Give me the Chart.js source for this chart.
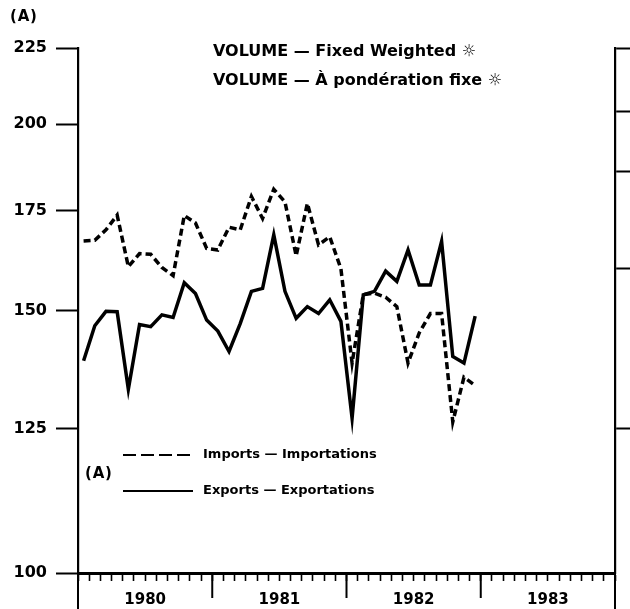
<!DOCTYPE html>
<html><head><meta charset="utf-8">
<script src="https://cdn.jsdelivr.net/npm/chart.js@4/dist/chart.umd.min.js"></script>
<style>
html,body{margin:0;padding:0;background:#fff;}
#wrap{position:relative;width:630px;height:609px;overflow:hidden;}
canvas{position:absolute;left:0;top:0;}
.t{position:absolute;font-family:"DejaVu Sans",sans-serif;font-weight:bold;color:#000;white-space:nowrap;line-height:1;}
svg{position:absolute;left:0;top:0;}
</style></head><body>
<div id="wrap">
<canvas id="c" width="630" height="609"></canvas>
<div class="t" style="left:10px;top:9px;font-size:15px;letter-spacing:0.8px">(A)</div>
<div class="t" style="left:213px;top:43px;font-size:16px">VOLUME — Fixed Weighted ☼</div>
<div class="t" style="left:213px;top:72px;font-size:16px">VOLUME — À pondération fixe ☼</div>
<svg width="630" height="609">
<line x1="123" y1="455" x2="193" y2="455" stroke="#000" stroke-width="2.2" stroke-dasharray="13,5"/>
<line x1="123" y1="491" x2="193" y2="491" stroke="#000" stroke-width="2.2"/>
</svg>
<div class="t" style="left:203px;top:447px;font-size:13px">Imports — Importations</div>
<div class="t" style="left:85px;top:466px;font-size:15px;letter-spacing:0.8px">(A)</div>
<div class="t" style="left:203px;top:483px;font-size:13px">Exports — Exportations</div>
</div>
<script>
// Axis content
const monthsOnAxis = 48;               // Jan 1980 .. Dec 1983
const yearLabels = ['1980', '1981', '1982', '1983'];
const yearBoundaries = [0, 12, 24, 36, 48];
const yTicks = [100, 125, 150, 175, 200, 225];
const rightTicks = [125, 160, 186, 204, 225];

// Monthly values, Jan 1980 .. Dec 1982 (volume index, fixed weighted)
const imports = [167, 167.2, 169.9, 173.8, 160.5, 163.8, 163.6, 160.3, 158.3, 173.7, 171.7, 165.1,
                 164.7, 170.6, 169.9, 178.9, 172.9, 180.9, 177.4, 163.2, 177, 166, 168.1, 160,
                 138.3, 153.7, 154.1, 153.1, 150.9, 138.3, 144.9, 149.3, 149.3, 126.3, 135.3, 133.6];
const exports = [138.8, 146.5, 149.8, 149.7, 132.8, 146.8, 146.3, 149, 148.4, 156.6, 154, 147.8,
                 145.3, 140.8, 147, 154.5, 155.2, 168.6, 154.5, 148.2, 150.9, 149.3, 152.5, 147.5,
                 127, 153.7, 154.5, 159.4, 156.9, 164.7, 156, 156, 166.9, 139.7, 138.3, 148.7];

const toPoints = arr => arr.map((v, i) => ({x: i + 0.5, y: v}));

const majorTicks = {
  id: 'majorTicks',
  afterDraw(chart) {
    const xs = chart.scales.x, ctx = chart.ctx;
    ctx.save();
    ctx.strokeStyle = '#000';
    ctx.lineWidth = 2;
    yearBoundaries.forEach(k => {
      const px = xs.getPixelForValue(k);
      const len = (k === 0 || k === monthsOnAxis) ? 36 : 25;
      ctx.beginPath();
      ctx.moveTo(px, xs.top);
      ctx.lineTo(px, xs.top + len);
      ctx.stroke();
    });
    ctx.restore();
  }
};

new Chart(document.getElementById('c'), {
  type: 'line',
  data: {
    datasets: [
      {label: 'Imports — Importations', data: toPoints(imports), borderColor: '#000', borderWidth: 3.5,
       borderDash: [7, 4], pointRadius: 0, tension: 0, fill: false},
      {label: 'Exports — Exportations', data: toPoints(exports), borderColor: '#000', borderWidth: 3.5,
       pointRadius: 0, tension: 0, fill: false}
    ]
  },
  options: {
    responsive: false,
    devicePixelRatio: 1,
    animation: false,
    layout: {padding: {top: 48, left: 0, right: 0, bottom: 0}},
    plugins: {legend: {display: false}, tooltip: {enabled: false}, title: {display: false}},
    scales: {
      x: {
        type: 'linear', position: 'bottom', min: 0, max: monthsOnAxis,
        afterBuildTicks: s => { s.ticks = Array.from({length: monthsOnAxis + 1}, (_, i) => ({value: i})); },
        afterFit: s => { s.height = 36; },
        ticks: {
          autoSkip: false, maxRotation: 0, minRotation: 0, padding: 10,
          color: '#000', font: {family: 'DejaVu Sans', weight: 'bold', size: 15},
          callback: v => (v % 12 === 6 ? yearLabels[(v - 6) / 12] : '')
        },
        grid: {drawOnChartArea: false, tickLength: 8, tickWidth: 1.6, tickColor: '#000'},
        border: {display: true, color: '#000', width: 3}
      },
      y: {
        type: 'logarithmic', position: 'left', min: 100, max: 225,
        afterBuildTicks: s => { s.ticks = yTicks.map(v => ({value: v})); },
        afterFit: s => { s.width = 78; },
        ticks: {
          padding: 9, color: '#000', font: {family: 'DejaVu Sans', weight: 'bold', size: 16},
          callback: v => String(v)
        },
        grid: {drawOnChartArea: false, tickLength: 22, tickWidth: 2, tickColor: '#000'},
        border: {display: true, color: '#000', width: 2.2}
      },
      yr: {
        type: 'logarithmic', position: 'right', min: 100, max: 225,
        afterBuildTicks: s => { s.ticks = rightTicks.map(v => ({value: v})); },
        afterFit: s => { s.width = 15; },
        ticks: {display: false},
        grid: {drawOnChartArea: false, tickLength: 15, tickWidth: 2, tickColor: '#000'},
        border: {display: true, color: '#000', width: 2.2}
      }
    }
  },
  plugins: [majorTicks]
});
</script>
</body></html>
